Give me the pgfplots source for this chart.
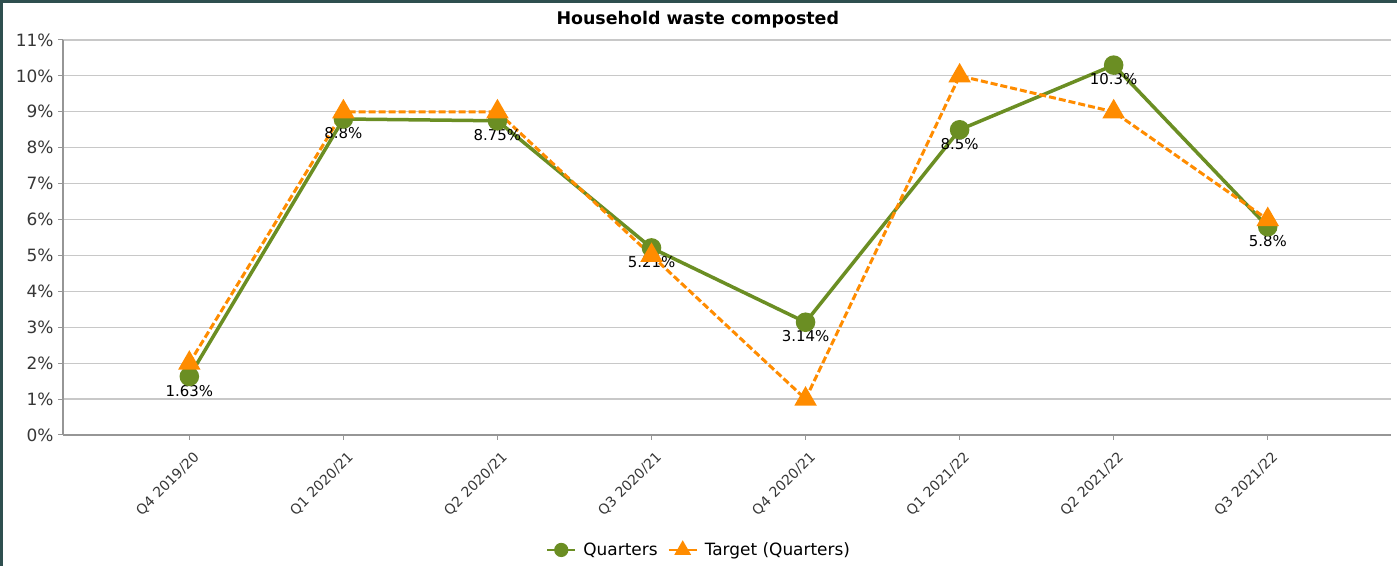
\documentclass[border=0pt]{standalone}
\usepackage{fontspec}
\setmainfont{DejaVu Sans}
\usepackage{pgfplots}
\pgfplotsset{compat=1.18}
\definecolor{qgreen}{RGB}{107,142,35}
\definecolor{torange}{RGB}{255,140,0}
\definecolor{gridgray}{RGB}{200,200,200}
\definecolor{axisgray}{RGB}{150,150,150}
\definecolor{framecol}{RGB}{47,79,79}
\definecolor{ticktext}{RGB}{55,55,55}
\begin{document}
\begin{tikzpicture}[x=1bp,y=1bp]
\useasboundingbox (0,0) rectangle (1397,566);
\fill[white] (0,0) rectangle (1397,566);
\draw[framecol, line width=3bp] (1.5,0) -- (1.5,564.5) -- (1397,564.5);
\begin{axis}[
  at={(63bp,131bp)}, anchor=south west,
  scale only axis, width=1328bp, height=395bp,
  xmin=-0.82, xmax=7.8, ymin=0, ymax=11,
  clip=false,
  axis lines=left,
  axis line style={-, axisgray, line width=1.2bp},
  ytick={0,1,...,11},
  yticklabels={0\%,1\%,2\%,3\%,4\%,5\%,6\%,7\%,8\%,9\%,10\%,11\%},
  xtick={0,1,...,7},
  xticklabels={Q4 2019/20,Q1 2020/21,Q2 2020/21,Q3 2020/21,Q4 2020/21,Q1 2021/22,Q2 2021/22,Q3 2021/22},
  tick align=outside,
  major tick length=5bp,
  tick style={axisgray, line width=1bp},
  ymajorgrids,
  grid style={gridgray, line width=1.2bp},
  yticklabel style={font=\fontsize{17}{20}\selectfont, text=ticktext, xshift=-1bp},
  xticklabel style={font=\fontsize{14}{17}\selectfont, text=ticktext, rotate=45, anchor=north east, xshift=-1.7bp, yshift=-6.3bp},
  legend style={at={(0.479,-0.291)}, anchor=center, draw=none, fill=none,
    font=\fontsize{17}{19}\selectfont, legend columns=2,
    /tikz/every odd column/.append style={column sep=5bp},
    /tikz/every even column/.append style={column sep=8bp}},
  legend image code/.code={\draw[line width=2.2bp, solid, mark repeat=2,mark phase=2] plot coordinates {(0bp,0bp) (14bp,0bp) (28bp,0bp)};},
]
% data labels first, so that the lines are drawn over them
\addplot[draw=none, no marks, forget plot,
  nodes near coords, point meta=explicit symbolic,
  nodes near coords style={anchor=north, yshift=-5bp, text=black, font=\fontsize{15}{17}\selectfont}]
  table[meta=label] {
x y label
0 1.63 1.63\%
1 8.8 8.8\%
2 8.75 8.75\%
3 5.21 5.21\%
4 3.14 3.14\%
5 8.5 8.5\%
6 10.3 10.3\%
7 5.8 5.8\%
};
\addplot[qgreen, line width=3.5bp, mark=*, mark size=8bp,
  legend image post style={mark size=6bp}]
  table {
x y
0 1.63
1 8.8
2 8.75
3 5.21
4 3.14
5 8.5
6 10.3
7 5.8
};
\addlegendentry{Quarters}
\addplot[torange, line width=3bp, dash pattern=on 7bp off 3bp, mark=triangle*, mark size=10bp, mark options={solid},
  legend image post style={mark size=7.5bp}]
  table {
x y
0 2
1 9
2 9
3 5
4 1
5 10
6 9
7 6
};
\addlegendentry{Target (Quarters)}
\node[font=\bfseries\fontsize{17.5}{20}\selectfont] at (axis description cs:0.478,1.051) {Household waste composted};
\end{axis}
\end{tikzpicture}
\end{document}
